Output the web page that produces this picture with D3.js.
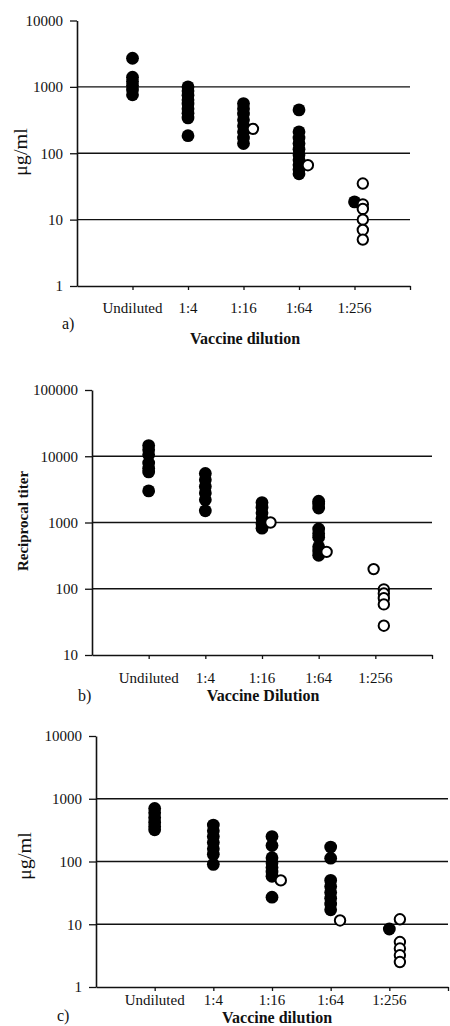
<!DOCTYPE html>
<html lang="en">
	<head>
		<meta charset="utf-8">
		<script type="text/javascript" src="https://d3js.org/d3.v7.min.js"></script>
		<style type="text/css">
			body { margin: 0; background: #fff; }
			svg text { font-family: "Liberation Serif", "Times New Roman", serif; fill: #111; }
		</style>
	</head>
	<body>
		<script type="text/javascript">

			//Category labels on the x axis
			var dilutions = ["Undiluted", "1:4", "1:16", "1:64", "1:256"];

			//Panel a (ug/ml): filled dots per dilution, open dots as [x, value]
			var aFilled = [
				[2700, 1400, 1200, 1050, 900, 760],
				[1000, 870, 750, 640, 550, 470, 400, 340, 184],
				[560, 470, 390, 320, 260, 210, 170, 140],
				[450, 210, 170, 140, 115, 95, 80, 67, 57, 49],
				[18.5]
			];
			var aOpen = [[3.17, 233], [4.16, 66], [5.15, 35], [5.15, 17], [5.15, 14.5], [5.15, 10], [5.15, 7], [5.15, 5]];

			//Panel b (reciprocal titer)
			var bFilled = [
				[14500, 12500, 10500, 7900, 6600, 5800, 3000],
				[5500, 4400, 3500, 2800, 2200, 1500],
				[2000, 1700, 1400, 1150, 950, 820],
				[2100, 1900, 1650, 800, 680, 600, 430, 370, 320],
				[]
			];
			var bOpen = [[3.15, 1000], [4.14, 360], [4.97, 198], [5.15, 98], [5.15, 85], [5.15, 72], [5.15, 58], [5.15, 27.7]];

			//Panel c (ug/ml)
			var cFilled = [
				[700, 600, 500, 420, 360, 320],
				[380, 310, 250, 200, 160, 130, 90],
				[250, 180, 115, 95, 80, 68, 58, 27],
				[170, 113, 50, 40, 32, 26, 21, 17],
				[8.4]
			];
			var cOpen = [[3.15, 50], [4.16, 11.5], [5.18, 12], [5.18, 5.2], [5.18, 4.1], [5.18, 3.2], [5.18, 2.5]];

			//Y tick values
			var ticksA = [1, 10, 100, 1000, 10000];
			var ticksB = [10, 100, 1000, 10000, 100000];

			var w = 450;
			var h = 1026;

			var svg = d3.select("body")
						.append("svg")
						.attr("width", w)
						.attr("height", h);

			function drawPanel(p) {
				var g = svg.append("g");

				var xScale = d3.scaleLinear().domain([0, 6]).range([p.left, p.right]);
				var yScale = d3.scaleLog().domain([p.ticks[0], p.ticks[p.ticks.length - 1]]).range([p.bottom, p.top]);

				//Horizontal gridlines (not at top or bottom)
				g.selectAll("line.grid")
				 .data(p.ticks.slice(1, -1))
				 .enter()
				 .append("line")
				 .attr("class", "grid")
				 .attr("x1", p.left)
				 .attr("x2", p.right)
				 .attr("y1", function(d) { return yScale(d); })
				 .attr("y2", function(d) { return yScale(d); })
				 .attr("stroke", "#111")
				 .attr("stroke-width", 1.4);

				//Y axis
				var yAxis = d3.axisLeft(yScale)
							  .tickValues(p.ticks)
							  .tickFormat(d3.format("d"))
							  .tickSizeInner(7)
							  .tickSizeOuter(0)
							  .tickPadding(7);
				var ya = g.append("g")
						  .attr("transform", "translate(" + p.left + ",0)")
						  .call(yAxis);
				ya.select(".domain").attr("stroke", "#111").attr("stroke-width", 1.6);
				ya.selectAll(".tick line").attr("stroke", "#111").attr("stroke-width", 1.3);
				ya.selectAll(".tick text")
				  .attr("font-size", "15px")
				  .attr("font-family", "Liberation Serif, serif")
				  .attr("fill", "#111");

				//X axis
				var xAxis = d3.axisBottom(xScale)
							  .tickValues([1, 2, 3, 4, 5, 6])
							  .tickFormat("")
							  .tickSizeInner(4)
							  .tickSizeOuter(0);
				var xa = g.append("g")
						  .attr("transform", "translate(0," + p.bottom + ")")
						  .call(xAxis);
				xa.select(".domain").attr("stroke", "#111").attr("stroke-width", 1.6);
				xa.selectAll(".tick line").attr("stroke", "#111").attr("stroke-width", 1.3);

				//Category labels
				g.selectAll("text.cat")
				 .data(dilutions)
				 .enter()
				 .append("text")
				 .attr("class", "cat")
				 .attr("x", function(d, i) { return xScale(i + 1); })
				 .attr("y", p.bottom + p.labelDy)
				 .attr("text-anchor", "middle")
				 .attr("dominant-baseline", "central")
				 .attr("font-size", "15px")
				 .text(function(d) { return d; });

				//Axis titles
				g.append("text")
				 .attr("x", p.xTitleX)
				 .attr("y", p.xTitleY)
				 .attr("text-anchor", "middle")
				 .attr("dominant-baseline", "central")
				 .attr("font-size", "16px")
				 .attr("font-weight", "bold")
				 .text(p.xTitle);

				var yt = g.append("text")
				 .attr("transform", "translate(" + p.yTitleX + "," + p.yTitleY + ") rotate(-90)")
				 .attr("text-anchor", "middle")
				 .attr("dominant-baseline", "central")
				 .attr("font-size", p.yTitleSize)
				 .attr("font-weight", p.yTitleWeight)
				 .text(p.yTitle);
				if (p.yTitleLen) {
					yt.attr("textLength", p.yTitleLen).attr("lengthAdjust", "spacingAndGlyphs");
				}

				//Panel letter
				g.append("text")
				 .attr("x", p.letterX)
				 .attr("y", p.letterY)
				 .attr("dominant-baseline", "central")
				 .attr("font-size", "16px")
				 .text(p.letter);

				//Filled dots
				var filled = [];
				p.filled.forEach(function(vals, i) {
					vals.forEach(function(v) { filled.push([i + 1, v]); });
				});
				g.selectAll("circle.filled")
				 .data(filled)
				 .enter()
				 .append("circle")
				 .attr("class", "filled")
				 .attr("cx", function(d) { return xScale(d[0]); })
				 .attr("cy", function(d) { return yScale(d[1]); })
				 .attr("r", 6.4)
				 .attr("fill", "#000");

				//Open dots, drawn on top
				g.selectAll("circle.open")
				 .data(p.open)
				 .enter()
				 .append("circle")
				 .attr("class", "open")
				 .attr("cx", function(d) { return xScale(d[0]); })
				 .attr("cy", function(d) { return yScale(d[1]); })
				 .attr("r", 5.2)
				 .attr("fill", "#fff")
				 .attr("stroke", "#000")
				 .attr("stroke-width", 2);
			}

			drawPanel({
				left: 77, right: 410, top: 20.5, bottom: 286,
				ticks: ticksA, filled: aFilled, open: aOpen,
				labelDy: 22,
				xTitle: "Vaccine dilution", xTitleX: 245, xTitleY: 338,
				yTitle: "\u03bcg/ml", yTitleX: 21, yTitleY: 152, yTitleSize: "18px", yTitleWeight: "normal", yTitleLen: 48,
				letter: "a)", letterX: 62, letterY: 323
			});

			drawPanel({
				left: 92, right: 432, top: 390, bottom: 655,
				ticks: ticksB, filled: bFilled, open: bOpen,
				labelDy: 23,
				xTitle: "Vaccine Dilution", xTitleX: 263, xTitleY: 695,
				yTitle: "Reciprocal titer", yTitleX: 23, yTitleY: 521, yTitleSize: "15px", yTitleWeight: "bold",
				letter: "b)", letterX: 78, letterY: 695
			});

			drawPanel({
				left: 96, right: 448, top: 736, bottom: 987,
				ticks: ticksA, filled: cFilled, open: cOpen,
				labelDy: 13,
				xTitle: "Vaccine dilution", xTitleX: 277, xTitleY: 1017,
				yTitle: "\u03bcg/ml", yTitleX: 25, yTitleY: 856, yTitleSize: "18px", yTitleWeight: "normal", yTitleLen: 48,
				letter: "c)", letterX: 57, letterY: 1015
			});

		</script>
	</body>
</html>
